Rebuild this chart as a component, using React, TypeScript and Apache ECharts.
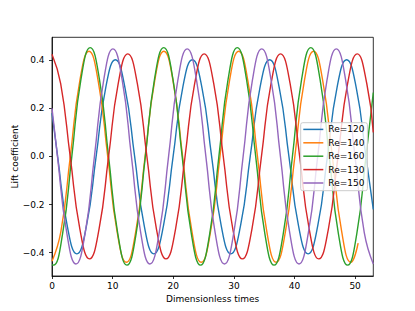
import React, { useEffect, useRef } from "react";
import * as echarts from "echarts";

const seriesNames = ["Re=120", "Re=140", "Re=160", "Re=130", "Re=150"];
const seriesColors = ["#1f77b4", "#ff7f0e", "#2ca02c", "#d62728", "#9467bd"];

const xTicks = [0, 10, 20, 30, 40, 50];
const yTicks = [-0.4, -0.2, 0, 0.2, 0.4];

const re120: number[][] = [
  [0, 0.18], [0.93, 0], [2.51, -0.288], [4.1, -0.405],
  [5.69, -0.288], [7.28, 0], [8.86, 0.285], [10.45, 0.402],
  [12.04, 0.285], [13.63, 0], [15.21, -0.288], [16.8, -0.405],
  [18.39, -0.288], [19.98, 0], [21.56, 0.285], [23.15, 0.402],
  [24.74, 0.285], [26.33, 0], [27.91, -0.288], [29.5, -0.405],
  [31.1, -0.288], [32.7, 0], [34.3, 0.285], [35.9, 0.402],
  [37.49, 0.285], [39.08, 0], [40.66, -0.288], [42.25, -0.405],
  [43.84, -0.288], [45.43, 0], [47.01, 0.285], [48.6, 0.402],
  [50.19, 0.285], [51.78, 0], [53, -0.22],
];

const re140: number[][] = [
  [0, -0.436], [1.47, -0.312], [3.02, 0], [4.56, 0.31], [6.1, 0.437],
  [7.64, 0.31], [9.19, 0], [10.73, -0.312], [12.27, -0.44],
  [13.82, -0.312], [15.36, 0], [16.91, 0.31], [18.45, 0.437],
  [19.99, 0.31], [21.54, 0], [23.08, -0.312], [24.62, -0.44],
  [26.16, -0.312], [27.71, 0], [29.25, 0.31], [30.8, 0.437],
  [32.34, 0.31], [33.89, 0], [35.43, -0.312], [36.97, -0.44],
  [38.51, -0.312], [40.06, 0], [41.6, 0.31], [43.15, 0.437],
  [44.69, 0.31], [46.24, 0], [47.78, -0.312], [49.32, -0.44],
  [50.5, -0.36],
];

const re160: number[][] = [
  [0, -0.45], [0.23, -0.452], [1.75, -0.321], [3.27, 0], [4.78, 0.321], [6.3, 0.452],
  [7.82, 0.321], [9.33, 0], [10.85, -0.321], [12.36, -0.452],
  [13.88, -0.321], [15.4, 0], [16.91, 0.321], [18.43, 0.452],
  [19.95, 0.321], [21.47, 0], [22.98, -0.321], [24.5, -0.452],
  [26.02, -0.321], [27.53, 0], [29.05, 0.321], [30.56, 0.452],
  [32.08, 0.321], [33.6, 0], [35.11, -0.321], [36.63, -0.452],
  [38.15, -0.321], [39.66, 0], [41.18, 0.321], [42.69, 0.452],
  [44.21, 0.321], [45.73, 0], [47.24, -0.321], [48.76, -0.452],
  [50.28, -0.321], [51.79, 0], [53, 0.265],
];

const re130: number[][] = [
  [0, 0.425], [1.43, 0.302], [3.0, 0], [4.6, -0.302], [6.18, -0.426],
  [7.76, -0.302], [9.34, 0], [10.92, 0.302], [12.5, 0.426],
  [14.08, 0.302], [15.65, 0], [17.23, -0.302], [18.8, -0.426],
  [20.38, -0.302], [21.95, 0], [23.53, 0.302], [25.1, 0.426],
  [26.68, 0.302], [28.25, 0], [29.83, -0.302], [31.4, -0.426],
  [32.98, -0.302], [34.55, 0], [36.13, 0.302], [37.7, 0.426],
  [39.28, 0.302], [40.85, 0], [42.43, -0.302], [44.0, -0.426],
  [45.59, -0.302], [47.18, 0], [48.76, 0.302], [50.35, 0.426],
  [51.93, 0.302], [53, 0.1],
];

const re150: number[][] = [
  [0, 0.2], [0.9, 0], [2.43, -0.317], [3.95, -0.447],
  [5.48, -0.317], [7.0, 0], [8.53, 0.317], [10.05, 0.447],
  [11.58, 0.317], [13.1, 0], [14.63, -0.317], [16.15, -0.447],
  [17.69, -0.317], [19.23, 0], [20.76, 0.317], [22.3, 0.447],
  [23.84, 0.317], [25.38, 0], [26.91, -0.317], [28.45, -0.447],
  [29.99, -0.317], [31.53, 0], [33.06, 0.317], [34.6, 0.447],
  [36.14, 0.317], [37.68, 0], [39.21, -0.317], [40.75, -0.447],
  [42.29, -0.317], [43.83, 0], [45.36, 0.317], [46.9, 0.447],
  [48.44, 0.317], [49.98, 0], [51.51, -0.317], [53.0, -0.447],
];

const seriesData = [re120, re140, re160, re130, re150];

const FONT = "DejaVu Sans";

export default function App() {
  const ref = useRef<HTMLDivElement>(null);
  useEffect(() => {
    if (!ref.current) return;
    const chart = echarts.init(ref.current, undefined, { renderer: "svg" });
    const fmtY = (v: number) => {
      const s = v.toFixed(1);
      return s.replace("-", "\u2212");
    };
    chart.setOption({
      animation: false,
      backgroundColor: "#ffffff",
      grid: {
        left: 52,
        right: 41.7,
        top: 37.3,
        bottom: 35,
        show: true,
        borderColor: "#000",
        borderWidth: 0.8,
        backgroundColor: "transparent",
        containLabel: false,
        outerBoundsMode: "none",
      },
      xAxis: {
        type: "value",
        min: 0,
        max: 53,
        name: "Dimensionless times",
        nameLocation: "middle",
        nameGap: 18,
        nameMoveOverlap: false,
        nameTextStyle: { fontFamily: FONT, fontSize: 9, color: "#000" },
        axisLine: { show: true, onZero: false, lineStyle: { color: "#000", width: 0.8 } },
        axisTick: {
          show: true,
          length: 3,
          lineStyle: { color: "#000", width: 0.8 },
          customValues: xTicks,
        },
        axisLabel: {
          fontFamily: FONT,
          fontSize: 9,
          color: "#000",
          margin: 5,
          customValues: xTicks,
          formatter: (v: number) => String(v),
        },
        splitLine: { show: false },
      },
      yAxis: {
        type: "value",
        min: -0.497,
        max: 0.495,
        name: "Lift coefficient",
        nameLocation: "middle",
        nameGap: 33,
        nameMoveOverlap: false,
        nameTextStyle: { fontFamily: FONT, fontSize: 9, color: "#000" },
        axisLine: { show: true, onZero: false, lineStyle: { color: "#000", width: 0.8 } },
        axisTick: {
          show: true,
          length: 3,
          lineStyle: { color: "#000", width: 0.8 },
          customValues: yTicks,
        },
        axisLabel: {
          fontFamily: FONT,
          fontSize: 9,
          color: "#000",
          margin: 7.5,
          customValues: yTicks,
          formatter: fmtY,
        },
        splitLine: { show: false },
      },
      legend: {
        orient: "vertical",
        left: 300.7,
        top: 122.7,
        z: 20,
        padding: [1.2, 3, 2.2, 2.6],
        itemWidth: 20,
        itemHeight: 1.5,
        itemGap: 2.4,
        icon: "rect",
        selectedMode: false,
        backgroundColor: "rgba(255,255,255,0.8)",
        borderColor: "#cccccc",
        borderWidth: 1,
        borderRadius: 2,
        textStyle: { fontFamily: FONT, fontSize: 9, color: "#000", lineHeight: 11 },
        itemTextGap: 6.6,
        data: seriesNames,
      },
      series: seriesNames.map((name, i) => ({
        name,
        type: "line",
        data: seriesData[i],
        symbol: "none",
        showSymbol: false,
        smooth: 0.5,
        color: seriesColors[i],
        lineStyle: { color: seriesColors[i], width: 1.4 },
        itemStyle: { color: seriesColors[i] },
        z: 2,
      })),
    });
    return () => chart.dispose();
  }, []);
  return (
    <div
      ref={ref}
      style={{ position: "fixed", left: 0, top: 0, width: 415, height: 311, background: "#fff" }}
    />
  );
}
